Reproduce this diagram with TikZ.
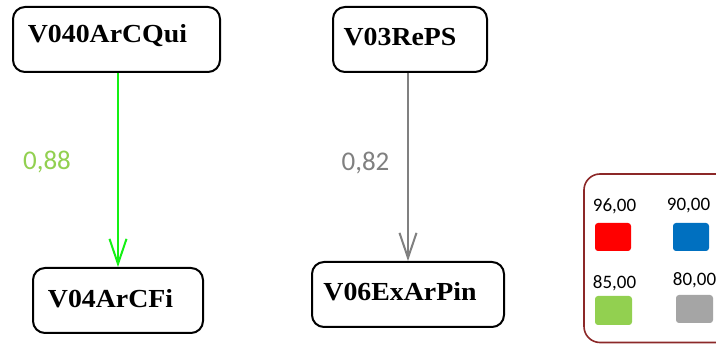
\documentclass[tikz,border=0pt]{standalone}
\usepackage{fontspec}
\setmainfont{Liberation Serif}
\newfontfamily\nodefont[FakeStretch=1.07]{Liberation Serif}
\newfontfamily\lblfont{Carlito}
\usetikzlibrary{arrows.meta}
\definecolor{lgreen}{RGB}{146,208,80}
\definecolor{arrgreen}{RGB}{20,240,20}
\definecolor{arrgray}{RGB}{128,128,128}
\definecolor{legred}{RGB}{140,40,40}
\definecolor{sqblue}{RGB}{0,112,192}
\definecolor{sqgray}{RGB}{165,165,165}
\tikzset{
  vbox/.style={draw=black, line width=2pt, rounded corners=12pt, fill=white, minimum height=65pt, inner sep=0pt},
  vtext/.style={font=\nodefont\bfseries\fontsize{26}{26}\selectfont, inner sep=0pt},
  conn/.style={line width=2pt, -{Straight Barb[length=25pt,width=17pt]}},
  elabel/.style={font=\lblfont\fontsize{27}{27}\selectfont, inner sep=0pt},
  leglabel/.style={font=\lblfont\fontsize{19}{19}\selectfont, inner sep=0pt},
  legsq/.style={rounded corners=3pt}
}
\begin{document}
\begin{tikzpicture}[x=1pt,y=-1pt]
\useasboundingbox (0,0) rectangle (716,344);
\clip (0,0) rectangle (716,344);
\fill[white] (0,0) rectangle (716,344);
% boxes
\node[vbox, minimum width=207pt] (a) at (116.5,39.5) {};
\node[vtext] (at) at (107.5,36) {V040ArCQui};
\node[vbox, minimum width=154pt] (b) at (410,39.5) {};
\node[vtext] (bt) at (400,37) {V03RePS};
\node[vbox, minimum width=170pt] (c) at (118,300.5) {};
\node[vtext] (ct) at (110.5,298.5) {V04ArCFi};
\node[vbox, minimum width=192pt] (d) at (408,294.5) {};
\node[vtext] (dt) at (400,292) {V06ExArPin};
% connectors
\draw[conn, arrgreen] (c.north |- a.south) -- (c.north);
\draw[conn, arrgray] (d.north |- b.south) -- (d.north);
\node[elabel, text=lgreen] (l1) at (47,162) {0,88};
\node[elabel, text=arrgray] (l2) at (365.5,163) {0,82};
% legend
\draw[legred, line width=1.6pt, rounded corners=16pt] (584,174) rectangle (740,342.5);
\node[leglabel] (t96) at (614.5,206) {96,00};
\node[leglabel] (t90) at (688.5,206) {90,00};
\node[leglabel] (t85) at (614.5,283) {85,00};
\node[leglabel] (t80) at (694.5,280) {80,00};
\fill[legsq, red] (595,223) rectangle (631,251);
\fill[legsq, sqblue] (673,223) rectangle (709,251);
\fill[legsq, lgreen] (595,296) rectangle (632,325);
\fill[legsq, sqgray] (676,295) rectangle (713,323);
\end{tikzpicture}
\end{document}
